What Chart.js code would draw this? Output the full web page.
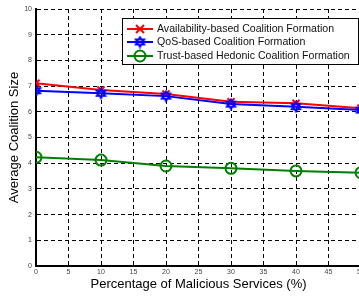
<!DOCTYPE html>
<html>
<head>
<meta charset="utf-8">
<script src="https://cdn.jsdelivr.net/npm/chart.js@4"></script>
<style>
html,body{margin:0;padding:0;background:#fff;overflow:hidden;}
#wrap{width:370px;height:297px;}
</style>
</head>
<body>
<div id="wrap"><canvas id="grafico" width="370" height="297"></canvas></div>
<script>
// datos
const porcentajes = [0, 10, 20, 30, 40, 50];
const disponibilidad = [7.11, 6.85, 6.69, 6.39, 6.33, 6.14];
const qos = [6.82, 6.72, 6.61, 6.30, 6.20, 6.07];
const confianza = [4.23, 4.12, 3.89, 3.80, 3.70, 3.63];
const nombres = [
"Availability-based Coalition Formation",
"QoS-based Coalition Formation",
"Trust-based Hedonic Coalition Formation"
];

function hexagrama(color){
const c = document.createElement("canvas");
c.width = 13; c.height = 13;
const g = c.getContext("2d");
g.strokeStyle = color;
g.lineWidth = 1.6;
const r = 5.2, cx = 6.5, cy = 6.5;
for(let k=0;k<2;k++){
g.beginPath();
for(let i=0;i<3;i++){
const a = -Math.PI/2 + k*Math.PI + i*2*Math.PI/3;
const px = cx + r*Math.cos(a), py = cy + r*Math.sin(a);
if(i===0) g.moveTo(px,py); else g.lineTo(px,py);
}
g.closePath();
g.stroke();
}
return c;
}
const estrella = hexagrama("#0000ff");

function puntos(valores){
return porcentajes.map((x,i) => ({x:x, y:valores[i]}));
}

const leyenda = {
id:"leyenda",
afterDraw(chart){
const ctx = chart.ctx;
const x0 = 122, y0 = 18, w = 236, h = 46;
ctx.save();
ctx.fillStyle = "#fff";
ctx.fillRect(x0, y0, w, h);
ctx.strokeStyle = "#000";
ctx.lineWidth = 1;
ctx.strokeRect(x0+0.5, y0+0.5, w, h);
const filas = [29, 42, 56];
ctx.font = "10.6px 'Liberation Sans', Arial, sans-serif";
ctx.textBaseline = "middle";
chart.data.datasets.forEach((ds, i) => {
const y = filas[i];
ctx.strokeStyle = ds.borderColor;
ctx.lineWidth = 2;
ctx.beginPath();
ctx.moveTo(127, y); ctx.lineTo(153, y);
ctx.stroke();
if(ds.pointStyle instanceof HTMLCanvasElement){
ctx.drawImage(ds.pointStyle, 140-6.5, y-6.5);
}else if(ds.pointStyle === "crossRot"){
ctx.beginPath();
ctx.moveTo(136, y-4); ctx.lineTo(144, y+4);
ctx.moveTo(144, y-4); ctx.lineTo(136, y+4);
ctx.stroke();
}else{
ctx.beginPath();
ctx.arc(140, y, 5.5, 0, Math.PI*2);
ctx.stroke();
}
ctx.fillStyle = "#111";
ctx.fillText(ds.label, 157, y+0.5);
});
ctx.restore();
}
};

const config = {
type:"line",
data:{
datasets:[{
label:nombres[0],
data:puntos(disponibilidad),
borderColor:"#ff0000",
borderWidth:2,
pointStyle:"crossRot",
pointRadius:5,
pointBorderWidth:2,
pointBorderColor:"#ff0000",
fill:false,
order:1
},{
label:nombres[1],
data:puntos(qos),
borderColor:"#0000ff",
borderWidth:2,
pointStyle:estrella,
fill:false,
order:0
},{
label:nombres[2],
data:puntos(confianza),
borderColor:"#008000",
borderWidth:2,
pointStyle:"circle",
pointRadius:5.5,
pointBorderWidth:2,
pointBorderColor:"#008000",
pointBackgroundColor:"rgba(0,0,0,0)",
fill:false,
order:2
}]
},
options:{
responsive:false,
animation:false,
layout:{padding:{top:9, right:9, left:0, bottom:0}},
plugins:{legend:{display:false}, tooltip:{enabled:false}},
scales:{
x:{
type:"linear",
min:0, max:50,
ticks:{stepSize:5, font:{size:7, family:"'Liberation Sans', Arial"}, color:"#444", padding:2, maxRotation:0},
grid:{color:"#000", lineWidth:1, drawTicks:false},
border:{display:true, color:"#000", width:2, dash:[4,3]},
title:{display:true, text:"Percentage of Malicious Services (%)", font:{size:13, family:"'Liberation Sans', Arial"}, color:"#000", padding:{top:0, bottom:5}},
afterFit(s){ s.height = 31; }
},
y:{
min:0, max:10,
ticks:{stepSize:1, font:{size:7, family:"'Liberation Sans', Arial"}, color:"#444", padding:4},
grid:{color:"#000", lineWidth:1, drawTicks:false},
border:{display:true, color:"#000", width:2, dash:[4,3]},
title:{display:true, text:"Average Coalition Size", font:{size:13, family:"'Liberation Sans', Arial"}, color:"#000", padding:{top:7, bottom:0}},
afterFit(s){ s.width = 36; }
}
}
},
plugins:[leyenda]
};

new Chart(document.getElementById("grafico"), config);
</script>
</body>
</html>
